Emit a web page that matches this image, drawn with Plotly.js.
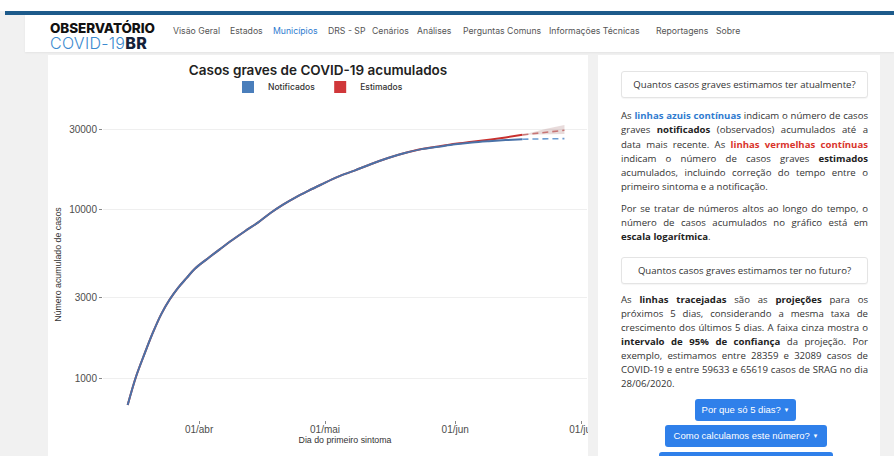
<!DOCTYPE html>
<html>
<head>
<meta charset="utf-8">
<script src="https://cdn.plot.ly/plotly-3.0.1.min.js"></script>
<style>
  html, body { margin:0; padding:0; }
  body { width:894px; height:456px; overflow:hidden; position:relative; background:#f1f1f1; font-family:"Open Sans", sans-serif; }
  .abs { position:absolute; }
  #topwhite { left:0; top:0; width:894px; height:11px; background:#fff; }
  #bluebar { left:5px; top:11px; width:889px; height:4px; background:#1d5b8b; }
  #nav { left:25px; top:15px; width:869px; height:37px; background:#fff; box-shadow:0 1px 2px rgba(0,0,0,0.06); }
  #logo { left:50px; top:20px; font-family:Inter, sans-serif; line-height:14.5px; }
  #logo .l1 { font-weight:800; font-size:13.5px; color:#111; letter-spacing:-0.1px; }
  #logo .l2 { font-weight:300; font-size:16px; color:#3b8ad0; letter-spacing:0.3px; }
  #logo .l2 b { font-weight:800; color:#14213a; }
  .navlink { top:25px; font-family:Inter, sans-serif; font-size:8.7px; color:#555; line-height:12px; white-space:nowrap; }
  .navlink.active { color:#2e7bcf; }
  #chartpanel { left:48px; top:55px; width:540px; height:401px; background:#fff; overflow:hidden; }
  #chart { width:540px; height:410px; }
  #rightpanel { left:598px; top:55px; width:282px; height:401px; background:#fff; }
  .qbox { left:621px; width:245px; height:25px; border:1px solid #e4e4e4; border-radius:3px; background:#fff; box-shadow:0 1px 1px rgba(0,0,0,0.04); text-align:center; line-height:25px; font-size:9.6px; color:#333; }
  .ln { left:621px; width:247px; height:14px; line-height:14px; font-size:9.6px; color:#333; white-space:nowrap; text-align:justify; text-align-last:justify; }
  .ln.last { text-align:left; text-align-last:left; }
  .ln b { font-weight:700; color:#222; }
  .ln b.blue { color:#2f7bd0; }
  .ln b.red { color:#d9342b; }
  .btn { background:#2f80ea; color:#fff; border-radius:3px; font-family:"Liberation Sans", Arial, sans-serif; font-size:9.5px; text-align:center; line-height:22px; height:22px; white-space:nowrap; }
  .btn span { font-size:6px; vertical-align:1px; }
</style>
</head>
<body>
<div id="topwhite" class="abs"></div>
<div id="bluebar" class="abs"></div>
<div id="nav" class="abs"></div>
<div id="logo" class="abs"><span class="l1">OBSERVATÓRIO</span><br><span class="l2">COVID-19<b>BR</b></span></div>
<div class="abs navlink" style="left:173px">Visão Geral</div>
<div class="abs navlink" style="left:230px">Estados</div>
<div class="abs navlink active" style="left:273px">Municípios</div>
<div class="abs navlink" style="left:328px">DRS - SP</div>
<div class="abs navlink" style="left:372px">Cenários</div>
<div class="abs navlink" style="left:417px">Análises</div>
<div class="abs navlink" style="left:463px">Perguntas Comuns</div>
<div class="abs navlink" style="left:549px">Informações Técnicas</div>
<div class="abs navlink" style="left:656px">Reportagens</div>
<div class="abs navlink" style="left:716px">Sobre</div>

<div id="chartpanel" class="abs"><div id="chart"></div></div>

<div id="rightpanel" class="abs"></div>
<div class="abs qbox" style="top:71px">Quantos casos graves estimamos ter atualmente?</div>
<div class="abs ln" style="top:109px">As <b class="blue">linhas azuis contínuas</b> indicam o número de casos</div>
<div class="abs ln" style="top:123px">graves <b>notificados</b> (observados) acumulados até a</div>
<div class="abs ln" style="top:137.5px">data mais recente. As <b class="red">linhas vermelhas contínuas</b></div>
<div class="abs ln" style="top:151.5px">indicam o número de casos graves <b>estimados</b></div>
<div class="abs ln" style="top:166px">acumulados, incluindo correção do tempo entre o</div>
<div class="abs ln last" style="top:180px">primeiro sintoma e a notificação.</div>
<div class="abs ln" style="top:202px">Por se tratar de números altos ao longo do tempo, o</div>
<div class="abs ln" style="top:216px">número de casos acumulados no gráfico está em</div>
<div class="abs ln last" style="top:230px"><b>escala logarítmica</b>.</div>
<div class="abs qbox" style="top:257px">Quantos casos graves estimamos ter no futuro?</div>
<div class="abs ln" style="top:293px">As <b>linhas tracejadas</b> são as <b>projeções</b> para os</div>
<div class="abs ln" style="top:307px">próximos 5 dias, considerando a mesma taxa de</div>
<div class="abs ln" style="top:321px">crescimento dos últimos 5 dias. A faixa cinza mostra o</div>
<div class="abs ln" style="top:335px"><b>intervalo de 95% de confiança</b> da projeção. Por</div>
<div class="abs ln" style="top:349px">exemplo, estimamos entre 28359 e 32089 casos de</div>
<div class="abs ln" style="top:363px">COVID-19 e entre 59633 e 65619 casos de SRAG no dia</div>
<div class="abs ln last" style="top:377px">28/06/2020.</div>
<div class="abs btn" style="left:695px; top:399px; width:101px">Por que só 5 dias? <span>▼</span></div>
<div class="abs btn" style="left:665px; top:425px; width:162px">Como calculamos este número? <span>▼</span></div>
<div class="abs btn" style="left:659px; top:452px; width:174px"></div>

<script>
// ---- data ----
const dates = ['2020-03-15','2020-03-17','2020-03-19','2020-03-21','2020-03-23','2020-03-25','2020-03-27','2020-03-29','2020-03-31','2020-04-03','2020-04-06','2020-04-09','2020-04-12','2020-04-15','2020-04-18','2020-04-21','2020-04-24','2020-04-27','2020-04-30','2020-05-04','2020-05-08','2020-05-12','2020-05-16','2020-05-20','2020-05-24','2020-05-28','2020-06-01','2020-06-05','2020-06-09','2020-06-13','2020-06-17'];
const notificados = [690,1020,1390,1860,2400,2930,3440,3930,4470,5130,5850,6650,7500,8410,9600,10770,11900,13000,14130,15740,17140,18790,20400,21830,23020,23800,24600,25200,25650,26050,26380];
const estimados = [690,1020,1390,1860,2400,2930,3440,3930,4470,5130,5850,6650,7500,8410,9600,10770,11900,13000,14130,15740,17140,18790,20400,21830,23050,23880,24750,25450,26180,27040,28000];
const projDates = ['2020-06-17','2020-06-20','2020-06-23','2020-06-27'];
const projNotificados = [26380,26450,26520,26600];
const projEstimados = [28000,28600,29150,29800];
const projEstLower = [28000,28050,28150,28359];
const projEstUpper = [28000,29300,30500,32089];
const seriesNames = ['Notificados','Estimados'];
const xTickVals = ['2020-04-01','2020-05-01','2020-06-01','2020-07-01'];
const xTickText = ['01/abr','01/mai','01/jun','01/jul'];
const yTickVals = [1000,3000,10000,30000];
const yTickText = ['1000','3000','10000','30000'];

const BLUE = '#4a72a8', RED = '#c8302e';
const traces = [
  {x:projDates, y:projEstLower, mode:'lines', line:{width:0, color:'rgba(0,0,0,0)'}, showlegend:false, hoverinfo:'skip'},
  {x:projDates, y:projEstUpper, mode:'lines', line:{width:0, color:'rgba(0,0,0,0)'}, fill:'tonexty', fillcolor:'rgba(185,145,145,0.33)', showlegend:false, hoverinfo:'skip'},
  {x:dates, y:estimados, mode:'lines', line:{color:RED, width:2, shape:'spline', smoothing:1}, showlegend:false},
  {x:projDates, y:projEstimados, mode:'lines', line:{color:'#c77575', width:1.6, dash:'6px,4px'}, showlegend:false},
  {x:dates, y:notificados, mode:'lines', line:{color:BLUE, width:2, shape:'spline', smoothing:1}, showlegend:false},
  {x:projDates, y:projNotificados, mode:'lines', line:{color:'#6b9bd1', width:1.6, dash:'6px,4px'}, showlegend:false},
  {x:[null], y:[null], name:seriesNames[0], mode:'markers', marker:{symbol:'square', size:12, color:'#4a7ebb'}},
  {x:[null], y:[null], name:seriesNames[1], mode:'markers', marker:{symbol:'square', size:12, color:'#d0373a'}}
];

const layout = {
  width:540, height:410,
  margin:{l:55, r:1, t:54, b:45},
  paper_bgcolor:'#fff', plot_bgcolor:'#fff',
  title:{text:'Casos graves de COVID-19 acumulados', x:0.5, xref:'container', xanchor:'center', y:0.963, yref:'container', yanchor:'middle',
         font:{family:'Inter, sans-serif', size:13.5, weight:600, color:'#222'}},
  showlegend:true,
  legend:{orientation:'h', traceorder:'normal', x:0.5, xref:'container', xanchor:'center', y:0.922, yref:'container', yanchor:'middle',
          font:{family:'Inter, sans-serif', size:8.5, weight:500, color:'#333'}, itemwidth:30, itemsizing:'constant', bgcolor:'rgba(0,0,0,0)'},
  xaxis:{type:'date', range:['2020-03-09 03:00','2020-07-02 09:00'], tickmode:'array', tickvals:xTickVals, ticktext:xTickText,
         ticks:'outside', ticklen:3, tickcolor:'#888', tickwidth:1, showgrid:false, zeroline:false, showline:false,
         ticklabeloverflow:'allow', ticklabelstandoff:-3,
         tickfont:{family:'Liberation Sans, Arial, sans-serif', size:10, color:'#4d4d4d'},
         title:{text:'Dia do primeiro sintoma', font:{family:'Liberation Sans, Arial, sans-serif', size:8.8, color:'#333'}, standoff:0}},
  yaxis:{type:'log', range:[2.75, 4.601], tickmode:'array', tickvals:yTickVals, ticktext:yTickText,
         ticks:'outside', ticklen:3, tickcolor:'#888', tickwidth:1, showgrid:true, gridcolor:'#efefef', gridwidth:1, zeroline:false, showline:false,
         tickfont:{family:'Liberation Sans, Arial, sans-serif', size:10, color:'#4d4d4d'},
         title:{text:'Número acumulado de casos', font:{family:'Liberation Sans, Arial, sans-serif', size:8.8, color:'#333'}, standoff:6}}
};
Plotly.newPlot('chart', traces, layout, {staticPlot:true, displayModeBar:false});
</script>
</body>
</html>
